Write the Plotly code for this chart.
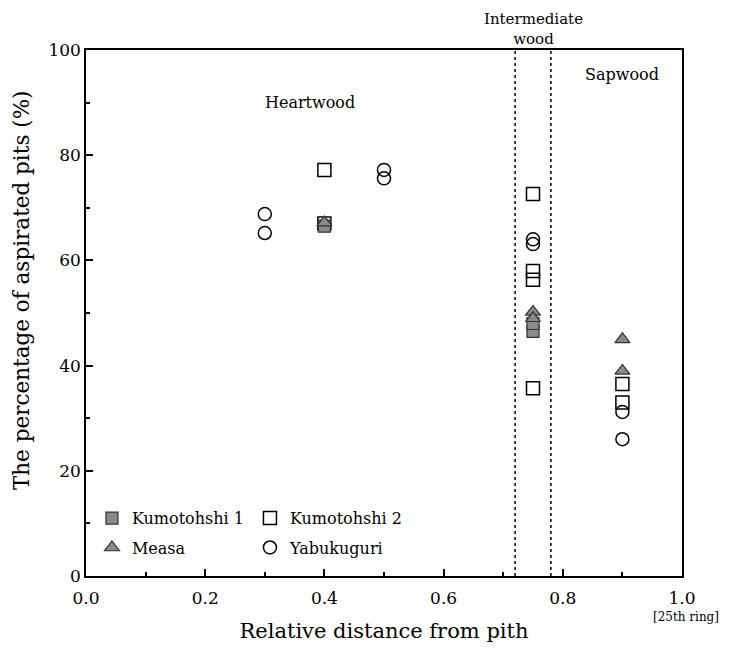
import plotly.graph_objects as go

# ---- data ----
k1_x = [0.40, 0.75, 0.75]
k1_y = [66.5, 46.5, 48.0]
k2_x = [0.40, 0.40, 0.75, 0.75, 0.75, 0.75, 0.90, 0.90]
k2_y = [77.2, 67.0, 72.6, 58.0, 56.3, 35.7, 36.5, 33.0]
measa_x = [0.40, 0.75, 0.75, 0.90, 0.90]
measa_y = [67.2, 50.2, 49.0, 45.0, 39.0]
yab_x = [0.30, 0.30, 0.50, 0.50, 0.75, 0.75, 0.90, 0.90]
yab_y = [68.8, 65.2, 77.2, 75.6, 64.0, 63.1, 31.2, 26.0]
zone_bounds = [0.72, 0.78]
zone_labels = ["Heartwood", "Intermediate<br>wood", "Sapwood"]

FONT = "DejaVu Serif"
GREY = "#8a8a8a"

fig = go.Figure()
fig.add_trace(go.Scatter(x=k2_x, y=k2_y, mode="markers", name="Kumotohshi 2",
                         marker=dict(symbol="square-open", size=13, color="black", line=dict(width=1.5)),
                         legend="legend"))
fig.add_trace(go.Scatter(x=yab_x, y=yab_y, mode="markers", name="Yabukuguri",
                         marker=dict(symbol="circle-open", size=13, color="black", line=dict(width=1.5)),
                         legend="legend2"))
fig.add_trace(go.Scatter(x=k1_x, y=k1_y, mode="markers", name="Kumotohshi 1",
                         marker=dict(symbol="square", size=12, color=GREY, line=dict(width=1.2, color="#333")),
                         legend="legend"))
fig.add_trace(go.Scatter(x=measa_x, y=measa_y, mode="markers", name="Measa",
                         marker=dict(symbol="triangle-up", size=13, color=GREY, line=dict(width=1.2, color="#333")),
                         legend="legend2"))

for xb in zone_bounds:
    fig.add_shape(type="line", x0=xb, x1=xb, y0=0, y1=1, xref="x", yref="paper",
                  line=dict(color="black", width=1.5, dash="dot"))

fig.add_annotation(x=0.376, y=0.901, xref="x", yref="paper", yanchor="middle", text=zone_labels[0],
                   showarrow=False, font=dict(family=FONT, size=16, color="black"))
fig.add_annotation(x=sum(zone_bounds) / 2, y=1.0, xref="x", yref="paper", yanchor="bottom",
                   text=zone_labels[1], showarrow=False,
                   font=dict(family=FONT, size=15, color="black"))
fig.add_annotation(x=0.899, y=0.9525, xref="x", yref="paper", yanchor="middle", text=zone_labels[2],
                   showarrow=False, font=dict(family=FONT, size=16, color="black"))
fig.add_annotation(x=1.007, y=0, xref="paper", yref="paper", xanchor="center", yanchor="top", yshift=-32,
                   text="[25th ring]", showarrow=False,
                   font=dict(family=FONT, size=12, color="black"))
fig.add_annotation(x=-0.107, y=0.544, xref="paper", yref="paper", xanchor="center", yanchor="middle",
                   text="The percentage of aspirated pits (%)", textangle=-90, showarrow=False,
                   font=dict(family=FONT, size=21.5, color="black"))

axis_common = dict(showline=True, linecolor="black", linewidth=1.5, mirror=True,
                   showgrid=False, zeroline=False, ticks="inside", ticklen=7,
                   tickcolor="black", tickwidth=1.5,
                   tickfont=dict(family=FONT, size=17, color="black"))
fig.update_xaxes(range=[0, 1.0], tick0=0, dtick=0.2, tickformat=".1f", ticklabelstandoff=6,
                 minor=dict(dtick=0.1, ticks="inside", ticklen=4, tickcolor="black"),
                 title=dict(text="Relative distance from pith", font=dict(family=FONT, size=21, color="black"),
                            standoff=16),
                 **axis_common)
fig.update_yaxes(range=[0, 100], tick0=0, dtick=20,
                 minor=dict(dtick=10, ticks="inside", ticklen=4, tickcolor="black"),
                 **axis_common)

leg_common = dict(orientation="h", xanchor="left", yanchor="middle", bgcolor="rgba(0,0,0,0)",
                  font=dict(family=FONT, size=16, color="black"), entrywidth=113,
                  itemwidth=30, traceorder="reversed")
fig.update_layout(
    width=729, height=654,
    margin=dict(l=86, r=47, t=50, b=78),
    paper_bgcolor="white", plot_bgcolor="white",
    font=dict(family=FONT, color="black"),
    legend=dict(x=0.01, y=0.11, **leg_common),
    legend2=dict(x=0.01, y=0.054, **leg_common),
)
fig.write_html("out.html")
